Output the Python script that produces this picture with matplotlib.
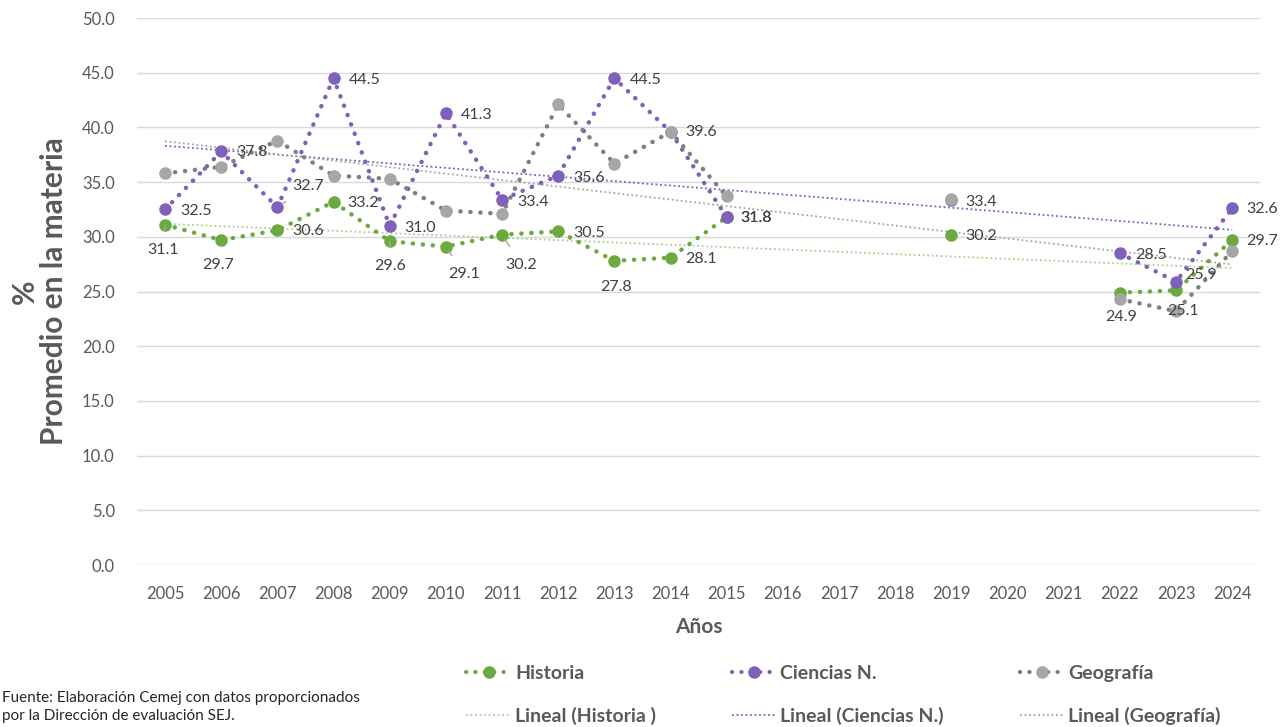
import numpy as np
import matplotlib.pyplot as plt
from matplotlib.lines import Line2D

plt.rcParams['font.family'] = ['Lato', 'DejaVu Sans']

# Datos (None = sin dato)
years = ['2005', '2006', '2007', '2008', '2009', '2010', '2011', '2012', '2013', '2014',
         '2015', '2016', '2017', '2018', '2019', '2020', '2021', '2022', '2023', '2024']
historia = [31.1, 29.7, 30.6, 33.2, 29.6, 29.1, 30.2, 30.5, 27.8, 28.1,
            31.8, None, None, None, 30.2, None, None, 24.9, 25.1, 29.7]
ciencias = [32.5, 37.8, 32.7, 44.5, 31.0, 41.3, 33.4, 35.6, 44.5, 39.6,
            31.8, None, None, None, 33.4, None, None, 28.5, 25.9, 32.6]
geografia = [35.8, 36.4, 38.8, 35.6, 35.3, 32.4, 32.1, 42.1, 36.7, 39.6,
             33.7, None, None, None, 33.5, None, None, 24.3, 23.2, 28.7]

GREEN = '#6AAA3F'
PURPLE = '#7F60BA'
GRAY_M = '#A6A6A6'
GRAY_L = '#7F7F7F'
TXT = '#595959'

# offsets de etiquetas en pixeles (dx, dy, ha, leader)
lab_hist = [(-2, -25, 'center', True), (-3, -25, 'center', True), (15, -1, 'left', False),
            (14, -1, 'left', False), (0, -25, 'center', True), (18, -27, 'center', True),
            (19, -30, 'center', True), (15, -2, 'left', False), (2, -26, 'center', True),
            (15, -1, 'left', False), (14, -1, 'left', False), None, None, None,
            (14, -1, 'left', False), None, None, (1, -24, 'center', False),
            (7, -21, 'center', False), (14, -1, 'left', False)]
lab_cien = [(15, -2, 'left', False), (15, -1, 'left', False), (15, 21, 'left', True),
            (15, -2, 'left', False), (15, -2, 'left', False), (15, -2, 'left', False),
            (15, -2, 'left', False), (15, -2, 'left', False), (15, -2, 'left', False),
            (15, 0, 'left', False), (14, -1, 'left', False), None, None, None,
            (14, -2, 'left', False), None, None, (15, -2, 'left', False),
            (9, 7, 'left', False), (14, -1, 'left', False)]

fig = plt.figure(figsize=(12.86, 7.27), dpi=100)
ax = fig.add_axes([0.1065, 0.2228, 0.8735, 0.7524])

x = np.arange(len(years))


def series(vals):
    return np.array([np.nan if v is None else v for v in vals], dtype=float)


dot = (0, (0.05, 2.2))
for vals, lc, mc, z in [(historia, GREEN, GREEN, 3), (ciencias, PURPLE, PURPLE, 4),
                        (geografia, GRAY_L, GRAY_M, 5)]:
    y = series(vals)
    ax.plot(x, y, linestyle=dot, color=lc, lw=3.2, dash_capstyle='round', zorder=z)
    ax.plot(x, y, linestyle='none', marker='o', ms=8, color=mc, zorder=z + 0.5)

# lineas de tendencia lineales
for vals, c, z in [(historia, '#A9D18E', 2), (ciencias, PURPLE, 2), (geografia, GRAY_M, 2)]:
    y = series(vals)
    m = ~np.isnan(y)
    k, b = np.polyfit(x[m], y[m], 1)
    ax.plot([0, 19], [b, b + 19 * k], linestyle=(0, (1, 1.5)), color=c, lw=1.3, zorder=z)

for vals, labs in [(historia, lab_hist), (ciencias, lab_cien)]:
    for i, v in enumerate(vals):
        if v is None:
            continue
        dx, dy, ha, lead = labs[i]
        ap = dict(arrowstyle='-', color=GRAY_M, lw=1, shrinkA=7, shrinkB=4) if lead else None
        ax.annotate(f'{v:.1f}', (i, v), xytext=(dx, dy), textcoords='offset pixels',
                    ha=ha, va='center', fontsize=11.5, color='#404040', arrowprops=ap, zorder=10)

ax.set_xlim(-0.5, 19.5)
ax.set_ylim(0, 50)
ax.set_yticks(np.arange(0, 50.1, 5))
ax.set_yticklabels([f'{t:.1f}' for t in np.arange(0, 50.1, 5)])
ax.set_xticks(x)
ax.set_xticklabels(years)
ax.tick_params(length=0, colors=TXT, labelsize=12)
ax.tick_params(axis='x', pad=15)
ax.tick_params(axis='y', pad=16)
ax.grid(axis='y', color='#D9D9D9', lw=1)
ax.set_axisbelow(True)
for s in ax.spines.values():
    s.set_visible(False)
ax.set_xlabel('Años', fontsize=15, fontweight='bold', color=TXT, labelpad=11)
ax.set_ylabel('%\nPromedio en la materia', fontsize=21.5, fontweight='bold', color=TXT,
              labelpad=10, linespacing=1.05)

handles = [
    Line2D([], [], linestyle=dot, color=GREEN, lw=3, marker='o', ms=8, dash_capstyle='round'),
    Line2D([], [], linestyle=(0, (1, 1.5)), color='#A9D18E', lw=1.3),
    Line2D([], [], linestyle=dot, color=PURPLE, lw=3, marker='o', ms=8, dash_capstyle='round'),
    Line2D([], [], linestyle=(0, (1, 1.5)), color=PURPLE, lw=1.3),
    Line2D([], [], linestyle=dot, color=GRAY_L, lw=3, marker='o', ms=8, mfc=GRAY_M, mec=GRAY_M,
           dash_capstyle='round'),
    Line2D([], [], linestyle=(0, (1, 1.5)), color=GRAY_M, lw=1.3),
]
labels = ['Historia', 'Lineal (Historia )', 'Ciencias N.', 'Lineal (Ciencias N.)',
          'Geografía', 'Lineal (Geografía)']
leg = fig.legend(handles, labels, ncol=3, loc='upper left', bbox_to_anchor=(0.349, 0.11),
                 frameon=False, fontsize=14, handlelength=2.3, handletextpad=0.2,
                 columnspacing=3.9, labelspacing=1.3)
for t in leg.get_texts():
    t.set_color(TXT)
    t.set_fontweight('bold')

fig.text(2 / 1286, 1 - 698 / 727, 'Fuente: Elaboración Cemej con datos proporcionados',
         fontsize=11, color='#262626', va='center')
fig.text(2 / 1286, 1 - 716 / 727, 'por la Dirección de evaluación SEJ.',
         fontsize=11, color='#262626', va='center')

fig.savefig('out.png', dpi=100)
